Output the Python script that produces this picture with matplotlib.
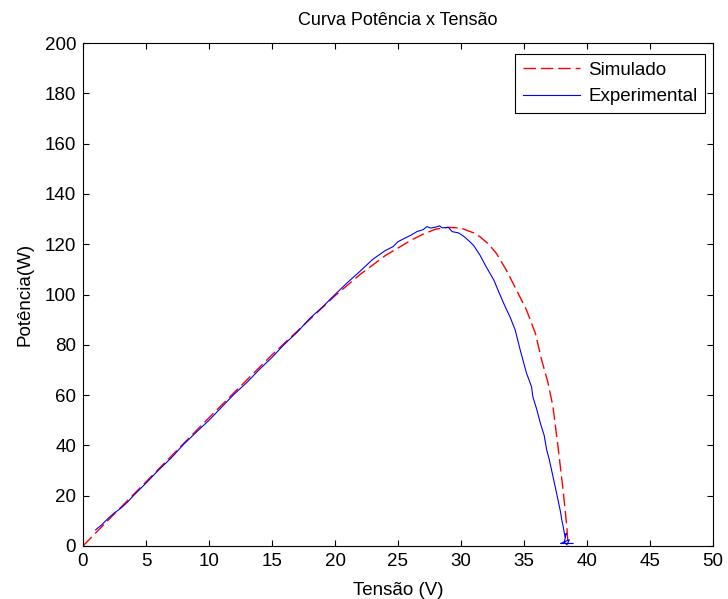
import numpy as np
import matplotlib.pyplot as plt

plt.rcParams['font.family'] = ['Liberation Sans', 'DejaVu Sans']

# simulated P-V curve
v_sim = [0, 2, 5, 10, 15, 20, 22, 24, 26, 27, 28, 29, 30, 31, 31.5, 32.2,
         32.8, 33.6, 34.4, 35.2, 35.9, 36.4, 36.9, 37.3, 37.7, 38.1, 38.4,
         38.5]
p_sim = [0, 10.3, 25.5, 51, 76, 99.5, 108, 115.5, 121.5, 124, 126, 126.7,
         126.4, 124.5, 123, 120, 116.4, 109.7, 101.8, 93.8, 84.6, 74, 65,
         55.4, 39.5, 22.3, 7.7, 0]

# measured P-V curve
v_exp = [1.0, 1.5, 2.0, 2.5, 3.0, 3.5, 4.0, 5.0, 6.0, 7.0, 8.0, 9.0, 10.0,
         11.0, 12.0, 13.0, 14.0, 15.0, 16.0, 17.0, 18.0, 19.0, 20.0, 21.0,
         22.0, 23.0, 24.0, 24.6, 25.0, 25.5, 26.0, 26.5, 27.0, 27.3, 27.6,
         28.0, 28.3, 28.5, 29.0, 29.3, 29.8, 30.2, 30.7, 31.0, 31.5, 32.0,
         32.3, 32.6, 33.0, 33.5, 33.9, 34.3, 34.7, 35.2, 35.6, 35.7, 36.0,
         36.3, 36.6, 36.8, 37.0, 37.3, 37.5, 37.7, 37.9, 38.0, 38.1, 38.25,
         38.35, 38.2, 38.4, 38.6, 37.9, 38.9]
p_exp = [6.4, 8.5, 11.0, 13.2, 15.0, 17.3, 20.0, 25.0, 30.2, 35.0, 40.5,
         45.3, 50.0, 55.2, 60.4, 65.0, 70.2, 75.0, 80.3, 85.0, 90.5, 95.0,
         100.0, 104.8, 109.3, 114.0, 117.5, 119.0, 121.0, 122.3, 123.5, 125.0,
         125.8, 127.0, 126.4, 126.8, 127.3, 126.5, 126.7, 125.0, 124.5, 123.2,
         121.0, 119.5, 115.7, 111.0, 108.4, 105.8, 101.0, 95.2, 91.0, 85.9,
         77.9, 68.7, 63.3, 59.4, 54.5, 48.8, 44.0, 38.2, 34.5, 27.6, 23.0,
         18.3, 13.5, 10.3, 8.0, 3.7, 5.0, 1.5, 0.5, 2.5, 1.0, 1.0]

fs = 13.5

fig = plt.figure(figsize=(7.28, 5.99), dpi=100)
ax = fig.add_axes([83 / 728, 53 / 599, 630 / 728, 503 / 599])

ax.plot(v_sim, p_sim, color='red', linestyle='--', dashes=(9, 3.5),
        linewidth=1.0, label='Simulado')
ax.plot(v_exp, p_exp, color='blue', linewidth=0.8, label='Experimental')

ax.set_xlim(0, 50)
ax.set_ylim(0, 200)
ax.set_xticks(np.arange(0, 51, 5))
ax.set_yticks(np.arange(0, 201, 20))
ax.tick_params(direction='in', top=True, right=True, labelsize=fs,
               length=4.5, pad=5)

ax.set_title('Curva Potência x Tensão', fontsize=13, pad=13)
ax.set_xlabel('Tensão (V)', fontsize=fs, labelpad=9)
ax.set_ylabel('Potência(W)', fontsize=fs, labelpad=8)

leg = ax.legend(loc='upper right', bbox_to_anchor=(0.987, 0.978),
                borderaxespad=0, fontsize=fs, fancybox=False,
                framealpha=1, edgecolor='black', handlelength=3.05,
                handletextpad=0.43, labelspacing=0.5, borderpad=0.4)
leg.get_frame().set_linewidth(0.8)

fig.savefig('out.png', dpi=100)
